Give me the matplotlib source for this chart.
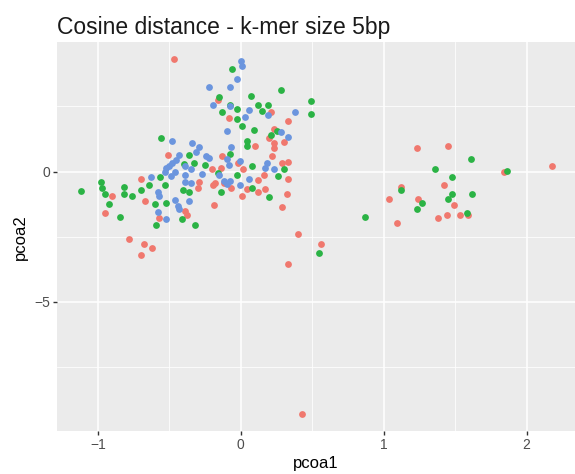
import matplotlib.pyplot as plt
from matplotlib.ticker import MultipleLocator

plt.rcParams['font.family'] = ['Liberation Sans', 'DejaVu Sans']

title = 'Cosine distance - k-mer size 5bp'

# group 1 (red)
red_x = [-0.47, -0.16, -0.08, 0.21, 0.33, 0.23, 0.195, 0.10, 0.23, 0.30, 0.23,
         -0.51, -0.13, 0.22, 0.29, 0.33, -0.02, 0.015, -0.14, -0.20, -0.70,
         -0.90, -0.95, -0.67, -0.575, -0.785, -0.675, -0.62, -0.70, -0.39,
         -0.375, -0.30, -0.29, -0.195, -0.18, -0.185, -0.12, -0.07, 0.008,
         0.04, 0.12, 0.12, 0.17, 0.16, 0.285, 0.32, 0.33, 0.40, 0.56, 0.33,
         0.43, 1.04, 1.09, 1.12, 1.23, 1.24, 1.45, 1.42, 1.49, 1.44, 1.38,
         1.53, 1.59, 1.84, 2.18]
red_y = [4.32, 2.73, 2.05, 2.27, 1.95, 1.63, 1.29, 0.98, 1.10, 1.12, 0.91,
         0.64, 0.59, 0.61, 0.33, 0.38, 0.33, 0.09, 0.13, 0.08, -0.28,
         -0.94, -1.59, -1.14, -1.77, -2.60, -2.78, -2.93, -3.21, -1.52,
         -1.68, -0.63, -0.41, -0.50, -0.43, -1.29, -0.43, -0.63, -0.92,
         -0.66, -0.31, -0.80, -0.66, -0.14, -1.35, -0.85, -0.28, -2.39,
         -2.77, -3.56, -9.29, -1.06, -1.98, -0.60, 0.91, -1.05, 0.99, -0.52,
         -1.29, -1.65, -1.77, -1.65, -1.68, 0.0, 0.22]

# group 2 (green)
green_x = [-0.06, -0.15, 0.074, 0.28, 0.49, 0.49, 0.12, 0.19, 0.147, -0.13,
           -0.077, -0.03, -0.03, 0.008, 0.09, 0.25, 0.21, 0.04, 0.04, -0.56,
           -0.077, -0.36, -0.33, -0.40, -0.25, 0.08, 0.30, 0.26, -0.03, -0.16,
           -0.98, -0.97, -0.95, -0.92, -1.12, -0.82, -0.82, -0.76, -0.70,
           -0.64, -0.565, -0.53, -0.525, -0.60, -0.845, -0.59, -0.41, -0.32,
           -0.405, -0.36, -0.14, 0.077, 0.20, 0.55, 0.87, 1.12, 1.265, 1.23,
           1.36, 1.475, 1.48, 1.45, 1.61, 1.62, 1.58, 1.865]
green_y = [3.95, 2.88, 2.91, 3.13, 2.69, 2.21, 2.56, 2.56, 2.33, 2.27,
           2.56, 2.41, 2.03, 1.76, 1.58, 1.54, 1.42, 1.19, 0.99, 1.28,
           0.68, 0.625, 0.31, 0.29, 0.27, 0.20, 0.08, -0.18, -0.13, -0.05,
           -0.41, -0.65, -0.88, -1.25, -0.75, -0.60, -0.85, -0.92, -0.70,
           -0.51, -0.20, -0.52, -1.19, -1.24, -1.75, -2.07, -1.81, -2.07,
           -0.71, -0.79, -0.78, -0.65, -0.98, -3.13, -1.75, -0.71, -1.22,
           -1.45, 0.115, -0.20, -0.87, -1.07, 0.47, -0.88, -1.59, 0.03]

# group 3 (blue)
blue_x = [0.003, 0.01, -0.03, -0.077, -0.22, -0.195, -0.077, 0.06, 0.026,
          0.19, 0.38, -0.10, 0.28, 0.33, -0.48, -0.34, -0.29, -0.07, -0.31,
          -0.43, -0.45, -0.48, -0.505, -0.52, -0.24, -0.22, -0.10, -0.08,
          -0.008, 0.18, 0.17, 0.23, -0.39, -0.35, -0.39, -0.27, -0.15, 0.06,
          -0.008, -0.626, -0.485, -0.53, -0.46, -0.58, -0.57, -0.46, -0.44,
          -0.43, -0.36, -0.58, -0.525, -0.12, -0.077, -0.10, -0.39, -0.35]
blue_y = [4.25, 4.06, 3.55, 3.25, 3.24, 2.54, 2.50, 2.35, 2.08, 2.16, 2.28,
          1.54, 1.51, 1.33, 1.16, 1.11, 0.94, 0.94, 0.75, 0.625, 0.46, 0.33,
          0.20, 0.14, 0.59, 0.52, 0.50, 0.27, 0.42, 0.31, 0.14, 0.11, 0.20,
          0.08, -0.13, -0.08, -0.14, -0.28, -0.51, -0.20, -0.19, -0.03,
          -0.01, -0.79, -0.94, -1.11, -1.33, -1.42, -1.15, -1.54, -1.84,
          -0.37, -0.37, -0.48, -0.41, -0.43]

fig = plt.figure(figsize=(5.75, 4.74), dpi=100)
ax = fig.add_axes([0.0986, 0.0907, 0.9014, 0.82])
ax.set_facecolor('#EBEBEB')

ax.scatter(red_x, red_y, s=24, color='#F0786E', linewidths=0, zorder=3)
ax.scatter(green_x, green_y, s=24, color='#2BB345', linewidths=0, zorder=3)
ax.scatter(blue_x, blue_y, s=24, color='#6B95DE', linewidths=0, zorder=3)

ax.set_xlim(-1.288, 2.338)
ax.set_ylim(-9.96, 4.96)
ax.xaxis.set_major_locator(MultipleLocator(1))
ax.xaxis.set_minor_locator(MultipleLocator(0.5))
ax.yaxis.set_major_locator(MultipleLocator(5))
ax.yaxis.set_minor_locator(MultipleLocator(2.5))
ax.grid(which='major', color='white', linewidth=1.1, zorder=0)
ax.grid(which='minor', color='white', linewidth=0.55, zorder=0)
ax.set_axisbelow(True)
for s in ax.spines.values():
    s.set_visible(False)
ax.tick_params(which='major', length=3, width=1, color='#333333',
               labelsize=10, labelcolor='#4D4D4D', pad=2)
ax.tick_params(which='minor', length=0)
fmt = plt.FuncFormatter(lambda v, p: f'{v:g}'.replace('-', '\u2212'))
ax.xaxis.set_major_formatter(fmt)
ax.yaxis.set_major_formatter(fmt)

ax.set_xlabel('pcoa1', fontsize=12, color='black', labelpad=3)
ax.set_ylabel('pcoa2', fontsize=12, color='black', labelpad=4)
ax.set_title(title, fontsize=16.5, loc='left', color='#1A1A1A', pad=6)

fig.savefig('out.png', dpi=100)
